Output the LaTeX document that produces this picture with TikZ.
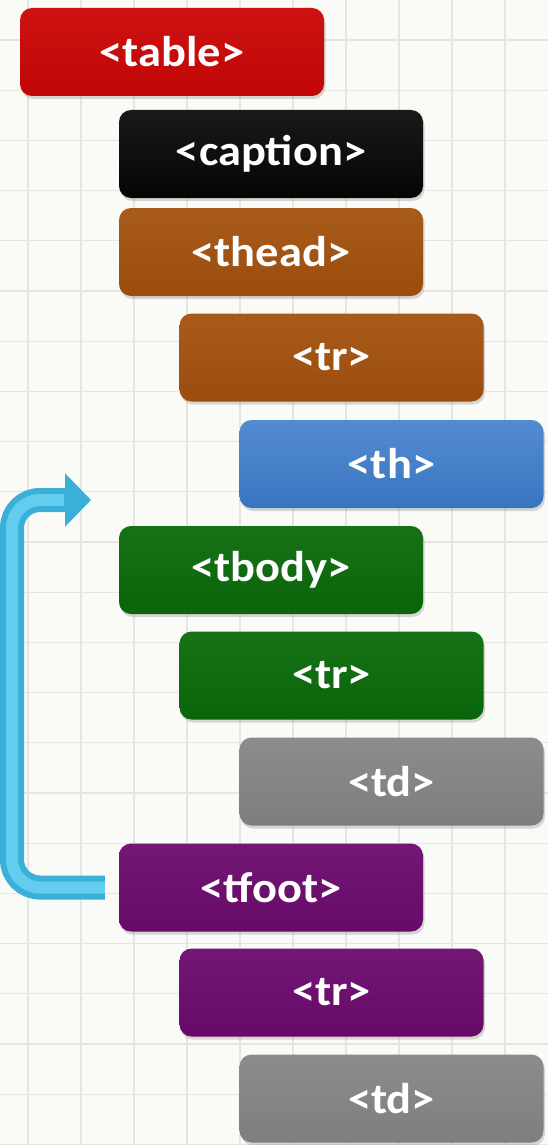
\documentclass[tikz,border=0pt]{standalone}
\usepackage{fontspec}
\setmainfont{Carlito}[FakeStretch=1.08]
\usetikzlibrary{arrows.meta,shadows}

\definecolor{paper}{HTML}{FAFAF6}
\definecolor{gridgray}{HTML}{E6E6E1}
\definecolor{tagred}{HTML}{CC0606}
\definecolor{tagblack}{HTML}{050505}
\definecolor{tagbrown}{HTML}{A4520F}
\definecolor{tagblue}{HTML}{3C7CCB}
\definecolor{taggreen}{HTML}{0B6B0B}
\definecolor{taggray}{HTML}{868686}
\definecolor{tagpurple}{HTML}{6D0A6E}
\definecolor{loopcyan}{HTML}{3AAFD8}
\definecolor{loopglow}{HTML}{62CDEE}

\tikzset{
  tagbox/.style={rounded corners=12pt, minimum width=304pt, minimum height=88pt,
    text=white, font=\fontsize{43}{43}\selectfont\bfseries,
    drop shadow={opacity=0.3, shadow xshift=1.5pt, shadow yshift=-3pt}},
  redbox/.style={tagbox, top color=tagred!95!white, bottom color=tagred!94!black},
  blackbox/.style={tagbox, top color=tagblack!92!white, bottom color=tagblack},
  brownbox/.style={tagbox, top color=tagbrown!95!white, bottom color=tagbrown!94!black},
  bluebox/.style={tagbox, top color=tagblue!88!white, bottom color=tagblue!94!black},
  greenbox/.style={tagbox, top color=taggreen!95!white, bottom color=taggreen!94!black},
  graybox/.style={tagbox, top color=taggray!95!white, bottom color=taggray!94!black},
  purplebox/.style={tagbox, top color=tagpurple!95!white, bottom color=tagpurple!94!black},
  looparrow/.style={loopcyan, line width=24pt, rounded corners=28pt, shorten <=14pt,
    -{Triangle[width=52pt,length=26pt]}},
  loopshine/.style={loopglow, line width=12pt, rounded corners=28pt, shorten <=14pt}
}

\begin{document}
\begin{tikzpicture}[x=1pt, y=-1pt]
  \useasboundingbox (0,0) rectangle (548,1145);
  \fill[paper] (0,0) rectangle (548,1145);
  % background grid
  \foreach \gx in {28,81,...,548}
    \draw[gridgray, line width=1.2pt] (\gx,0) -- (\gx,1145);
  \foreach \gy in {40,90.2,...,1145}
    \draw[gridgray, line width=1.2pt] (0,\gy) -- (548,\gy);

  \node[redbox] (table) at (172,52) {<table>};
  \node[blackbox] (caption) at (271,154) {<caption>};
  \node[brownbox] (thead) at (271,252) {<thead>};
  \node[brownbox] (headtr) at (331.5,357.5) {<tr>};
  \node[bluebox] (th) at (391.5,464) {<th>};
  \node[greenbox] (tbody) at (271,570) {<tbody>};
  \node[greenbox] (bodytr) at (331.5,675.5) {<tr>};
  \node[graybox] (bodytd) at (391.5,781.5) {<td>};
  \node[purplebox] (tfoot) at (271,887.5) {<tfoot>};
  \node[purplebox] (foottr) at (331.5,992.5) {<tr>};
  \node[graybox] (foottd) at (391.5,1098.5) {<td>};

  % tfoot goes back up before tbody
  \coordinate (looptop) at (12,500);
  \coordinate (loopneck) at (64,500);
  \coordinate (loopend) at (91,500);
  \draw[looparrow] (tfoot.west) -| (looptop) -- (loopend);
  \draw[loopshine] (tfoot.west) -| (looptop) -- (loopneck);
\end{tikzpicture}
\end{document}
